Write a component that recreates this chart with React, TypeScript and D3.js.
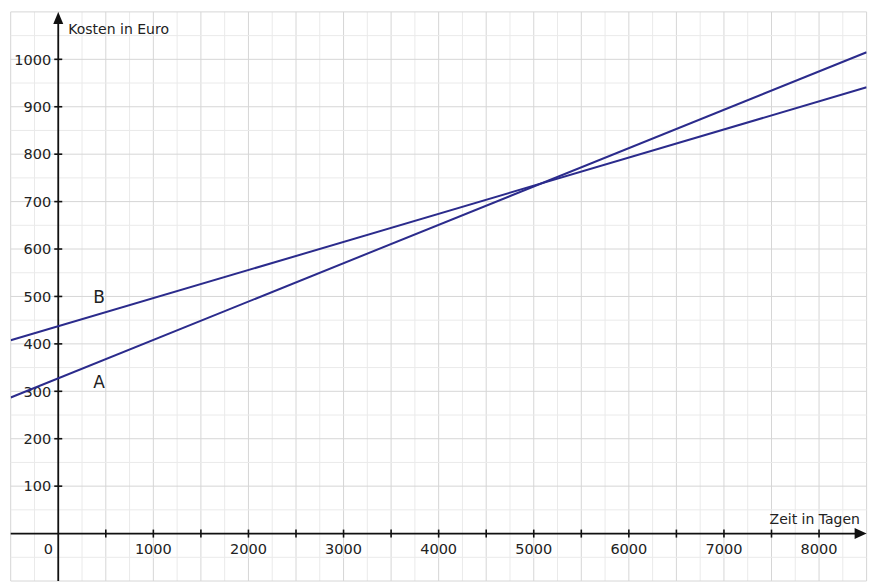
import React from "react";
import * as d3 from "d3";

const xDomain = [-500, 8500];
const yDomain = [-100, 1100];
const xTickLabels = [1000, 2000, 3000, 4000, 5000, 6000, 7000, 8000];
const xTickMarks = [500, 1000, 1500, 2000, 2500, 3000, 3500, 4000, 4500, 5000, 5500, 6000, 6500, 7000, 7500, 8000];
const yTickLabels = [100, 200, 300, 400, 500, 600, 700, 800, 900, 1000];

const lineA = [
  { x: -500, y: 287 },
  { x: 8500, y: 1015 },
];
const lineB = [
  { x: -500, y: 407.5 },
  { x: 8500, y: 941 },
];
const seriesLabels = [
  { name: "B", x: 430, y: 487 },
  { name: "A", x: 430, y: 307 },
];

const W = 880;
const H = 588;

export default function App() {
  const x = d3.scaleLinear().domain(xDomain).range([10.7, 866.6]);
  const y = d3.scaleLinear().domain(yDomain).range([581, 11.9]);
  const line = d3
    .line<{ x: number; y: number }>()
    .x((d) => x(d.x))
    .y((d) => y(d.y));

  const vGrid = d3.range(xDomain[0], xDomain[1] + 1, 250);
  const hGrid = d3.range(yDomain[0], yDomain[1] + 1, 50);
  const x0 = x(0);
  const y0 = y(0);
  const font = "'DejaVu Sans', Verdana, sans-serif";
  const lineColor = "#2b2b8c";

  return (
    <svg
      width={W}
      height={H}
      style={{ position: "absolute", left: 0, top: 0, background: "#fff" }}
      fontFamily={font}
    >
      <defs>
        <clipPath id="plot">
          <rect x={x(xDomain[0])} y={y(yDomain[1])} width={x(xDomain[1]) - x(xDomain[0])} height={y(yDomain[0]) - y(yDomain[1])} />
        </clipPath>
      </defs>
      <g>
        {vGrid.map((v) => (
          <line
            key={"v" + v}
            x1={x(v)}
            x2={x(v)}
            y1={y(yDomain[1])}
            y2={y(yDomain[0])}
            stroke={v % 500 === 0 ? "#d6d6d6" : "#eaeaea"}
            strokeWidth={1}
          />
        ))}
        {hGrid.map((v) => (
          <line
            key={"h" + v}
            y1={y(v)}
            y2={y(v)}
            x1={x(xDomain[0])}
            x2={x(xDomain[1])}
            stroke={v % 100 === 0 ? "#d6d6d6" : "#eaeaea"}
            strokeWidth={1}
          />
        ))}
      </g>
      {/* axes */}
      <line x1={x(xDomain[0])} x2={x(xDomain[1]) - 8} y1={y0} y2={y0} stroke="#111" strokeWidth={1.8} />
      <path d={`M${x(xDomain[1])},${y0} L${x(xDomain[1]) - 12},${y0 - 5.5} L${x(xDomain[1]) - 12},${y0 + 5.5} Z`} fill="#111" />
      <line x1={x0} x2={x0} y1={y(yDomain[0])} y2={y(yDomain[1]) + 8} stroke="#111" strokeWidth={1.8} />
      <path d={`M${x0},${y(yDomain[1])} L${x0 - 5},${y(yDomain[1]) + 12} L${x0 + 5},${y(yDomain[1]) + 12} Z`} fill="#111" />
      {xTickMarks.map((t) => (
        <line key={"xt" + t} x1={x(t)} x2={x(t)} y1={y0 - 4} y2={y0 + 4} stroke="#111" strokeWidth={1.6} />
      ))}
      {yTickLabels.map((t) => (
        <line key={"yt" + t} x1={x0 - 4} x2={x0 + 4} y1={y(t)} y2={y(t)} stroke="#111" strokeWidth={1.6} />
      ))}
      {xTickLabels.map((t) => (
        <text key={"xl" + t} x={x(t)} y={y0 + 20} textAnchor="middle" fontSize={14.5} fill="#222">
          {t}
        </text>
      ))}
      <text x={x0 - 10} y={y0 + 20} textAnchor="middle" fontSize={14.5} fill="#222">
        0
      </text>
      {yTickLabels.map((t) => (
        <text key={"yl" + t} x={x0 - 7} y={y(t)} dy="0.36em" textAnchor="end" fontSize={14.5} fill="#222">
          {t}
        </text>
      ))}
      <text x={x0 + 10} y={34} fontSize={14} fill="#222">
        Kosten in Euro
      </text>
      <text x={860} y={y0 - 9.5} textAnchor="end" fontSize={14} fill="#222">
        Zeit in Tagen
      </text>
      {/* lines */}
      <g clipPath="url(#plot)">
        <path d={line(lineA) || ""} fill="none" stroke={lineColor} strokeWidth={2} />
        <path d={line(lineB) || ""} fill="none" stroke={lineColor} strokeWidth={2} />
      </g>
      {seriesLabels.map((l) => (
        <text key={l.name} x={x(l.x)} y={y(l.y)} textAnchor="middle" fontSize={17} fill="#222">
          {l.name}
        </text>
      ))}
    </svg>
  );
}
